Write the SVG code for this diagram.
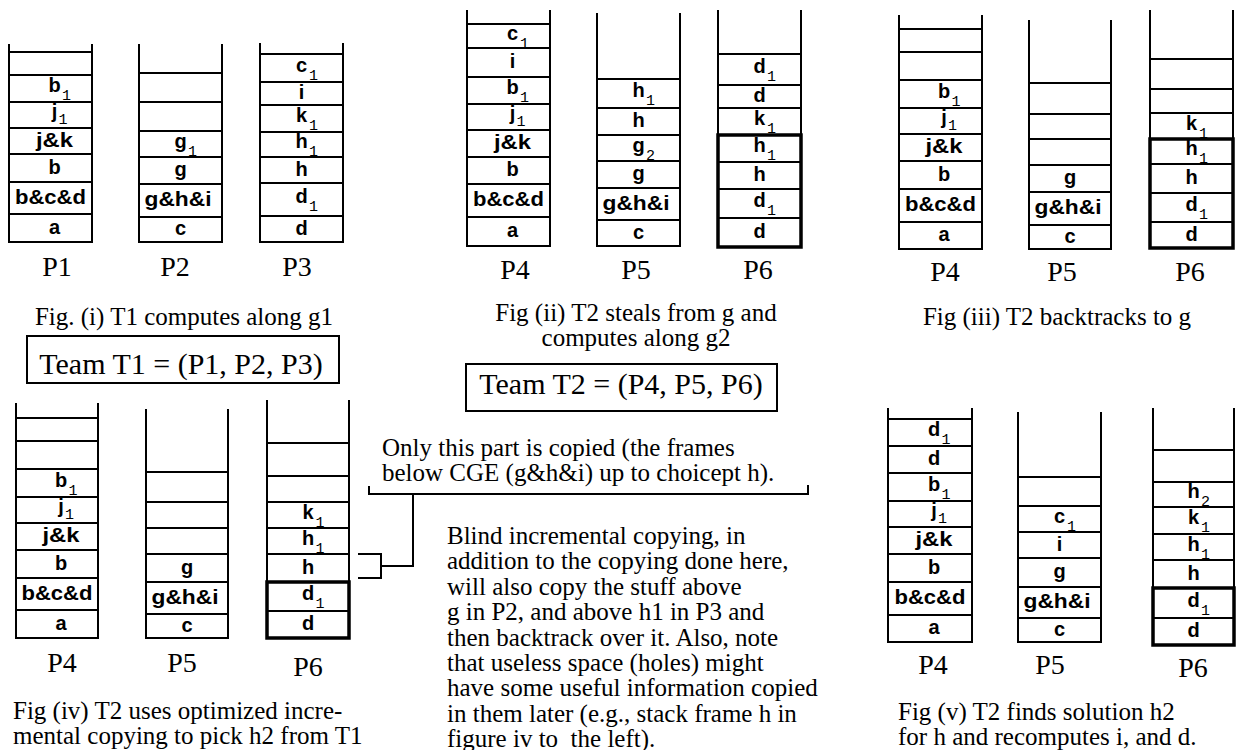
<svg xmlns="http://www.w3.org/2000/svg" width="1243" height="750" viewBox="0 0 1243 750">
<style>
.w{fill:none;stroke:#000;stroke-width:2}
.tk{fill:none;stroke:#000;stroke-width:3.5}
.l{font-family:"Liberation Sans",Arial,sans-serif;font-weight:bold;font-size:20px;text-anchor:middle}
.s{font-family:"Liberation Mono","Courier New",monospace;font-size:15px}
.p{font-family:"Liberation Serif","Times New Roman",serif;font-size:28px;text-anchor:middle}
.c{font-family:"Liberation Serif","Times New Roman",serif;font-size:25px}
.cm{font-family:"Liberation Serif","Times New Roman",serif;font-size:25px;text-anchor:middle}
.t{font-family:"Liberation Serif","Times New Roman",serif;font-size:30px;text-anchor:middle}
</style>
<rect width="1243" height="750" fill="#fff"/>

<!-- Fig (i) -->
<g id="fig1-P1">
<path class="w" d="M9,44V242H92V44M9,52H92M9,75H92M9,102H92M9,128H92M9,154H92M9,182H92M9,214H92"/>
<text class="l" x="54.5" y="92">b</text><text class="s" x="62" y="100">1</text>
<text class="l" x="54.5" y="117.5">j</text><text class="s" x="58.5" y="124">1</text>
<text class="l" x="54.5" y="146.5" textLength="37" lengthAdjust="spacingAndGlyphs">j&amp;k</text>
<text class="l" x="54.5" y="174">b</text>
<text class="l" x="50.5" y="204" textLength="71" lengthAdjust="spacingAndGlyphs">b&amp;c&amp;d</text>
<text class="l" x="54.5" y="234">a</text>
<text class="p" x="57" y="276">P1</text>
</g>
<g id="fig1-P2">
<path class="w" d="M139,44V242H222V44M139,73H222M139,102H222M139,131H222M139,157H222M139,184H222M139,217H222"/>
<text class="l" x="180.5" y="147.5">g</text><text class="s" x="188" y="155.5">1</text>
<text class="l" x="180.5" y="176">g</text>
<text class="l" x="178" y="206" textLength="67" lengthAdjust="spacingAndGlyphs">g&amp;h&amp;i</text>
<text class="l" x="180.5" y="235">c</text>
<text class="p" x="175" y="276">P2</text>
</g>
<g id="fig1-P3">
<path class="w" d="M260,43V242H343V43M260,54H343M260,82H343M260,105H343M260,132H343M260,157H343M260,183H343M260,216H343"/>
<text class="l" x="301.5" y="71.5">c</text><text class="s" x="309" y="79.5">1</text>
<text class="l" x="301.5" y="99">i</text>
<text class="l" x="301.5" y="122">k</text><text class="s" x="309" y="130">1</text>
<text class="l" x="301.5" y="148">h</text><text class="s" x="309" y="156">1</text>
<text class="l" x="301.5" y="175.5">h</text>
<text class="l" x="301.5" y="203">d</text><text class="s" x="309" y="211">1</text>
<text class="l" x="301.5" y="234.5">d</text>
<text class="p" x="297" y="276">P3</text>
</g>
<text id="cap1" class="cm" x="184" y="325">Fig. (i) T1 computes along g1</text>
<g id="team1">
<rect class="w" x="27" y="336" width="312" height="47"/>
<text class="t" x="181" y="374">Team T1 = (P1, P2, P3)</text>
</g>

<!-- Fig (ii) -->
<g id="fig2-P4">
<path class="w" d="M467,10V246H550V10M467,24H550M467,48H550M467,77H550M467,104H550M467,130H550M467,157H550M467,184H550M467,217H550"/>
<text class="l" x="512.5" y="39.5">c</text><text class="s" x="520" y="47.5">1</text>
<text class="l" x="512.5" y="68">i</text>
<text class="l" x="512.5" y="94">b</text><text class="s" x="520" y="102">1</text>
<text class="l" x="512.5" y="119.5">j</text><text class="s" x="516.5" y="126">1</text>
<text class="l" x="512.5" y="149" textLength="37" lengthAdjust="spacingAndGlyphs">j&amp;k</text>
<text class="l" x="512.5" y="176">b</text>
<text class="l" x="508.5" y="206" textLength="71" lengthAdjust="spacingAndGlyphs">b&amp;c&amp;d</text>
<text class="l" x="512.5" y="237">a</text>
<text class="p" x="515" y="279">P4</text>
</g>
<g id="fig2-P5">
<path class="w" d="M597,13V246H680V13M597,79H680M597,108H680M597,135H680M597,161H680M597,188H680M597,220H680"/>
<text class="l" x="638.5" y="97">h</text><text class="s" x="646" y="105">1</text>
<text class="l" x="638.5" y="127">h</text>
<text class="l" x="638.5" y="151.5">g</text><text class="s" x="646" y="159.5">2</text>
<text class="l" x="638.5" y="180">g</text>
<text class="l" x="636" y="209.5" textLength="67" lengthAdjust="spacingAndGlyphs">g&amp;h&amp;i</text>
<text class="l" x="638.5" y="238.5">c</text>
<text class="p" x="636" y="279">P5</text>
</g>
<g id="fig2-P6">
<path class="w" d="M718,10V247H801V10M718,54H801M718,85H801M718,108H801M718,162H801M718,189H801M718,218H801"/>
<rect class="tk" x="718" y="135" width="83" height="112"/>
<text class="l" x="759.5" y="73">d</text><text class="s" x="767" y="81">1</text>
<text class="l" x="759.5" y="102">d</text>
<text class="l" x="759.5" y="125">k</text><text class="s" x="767" y="133">1</text>
<text class="l" x="759.5" y="152">h</text><text class="s" x="767" y="160">1</text>
<text class="l" x="759.5" y="181">h</text>
<text class="l" x="759.5" y="207">d</text><text class="s" x="767" y="215">1</text>
<text class="l" x="759.5" y="238">d</text>
<text class="p" x="758" y="279">P6</text>
</g>
<g id="cap2">
<text class="cm" x="636" y="321">Fig (ii) T2 steals from g and</text>
<text class="cm" x="636" y="346">computes along g2</text>
</g>
<g id="team2">
<rect class="w" x="466" y="364" width="311" height="47"/>
<text class="t" x="621" y="394">Team T2 = (P4, P5, P6)</text>
</g>

<!-- Fig (iii) -->
<g id="fig3-P4">
<path class="w" d="M899,15V249H982V15M899,29H982M899,52H982M899,80H982M899,108H982M899,134H982M899,161H982M899,189H982M899,222H982"/>
<text class="l" x="944" y="97.5">b</text><text class="s" x="951.5" y="105.5">1</text>
<text class="l" x="944" y="123.5">j</text><text class="s" x="948" y="130">1</text>
<text class="l" x="944" y="153" textLength="37" lengthAdjust="spacingAndGlyphs">j&amp;k</text>
<text class="l" x="944" y="180.5">b</text>
<text class="l" x="940.5" y="211" textLength="71" lengthAdjust="spacingAndGlyphs">b&amp;c&amp;d</text>
<text class="l" x="944" y="241">a</text>
<text class="p" x="945" y="281">P4</text>
</g>
<g id="fig3-P5">
<path class="w" d="M1029,20V249H1111V20M1029,83H1111M1029,114H1111M1029,139H1111M1029,165H1111M1029,192H1111M1029,225H1111"/>
<text class="l" x="1070" y="184">g</text>
<text class="l" x="1068" y="214" textLength="67" lengthAdjust="spacingAndGlyphs">g&amp;h&amp;i</text>
<text class="l" x="1070" y="242.5">c</text>
<text class="p" x="1062" y="281">P5</text>
</g>
<g id="fig3-P6">
<path class="w" d="M1150,10V248H1233V10M1150,59H1233M1150,89H1233M1150,113H1233M1150,164H1233M1150,193H1233M1150,222H1233"/>
<rect class="tk" x="1150" y="139" width="83" height="109"/>
<text class="l" x="1191.5" y="129.5">k</text><text class="s" x="1199" y="137.5">1</text>
<text class="l" x="1191.5" y="155">h</text><text class="s" x="1199" y="163">1</text>
<text class="l" x="1191.5" y="184">h</text>
<text class="l" x="1191.5" y="211">d</text><text class="s" x="1199" y="219">1</text>
<text class="l" x="1191.5" y="240.5">d</text>
<text class="p" x="1190" y="281">P6</text>
</g>
<text id="cap3" class="cm" x="1057" y="325">Fig (iii) T2 backtracks to g</text>

<!-- Fig (iv) -->
<g id="fig4-P4">
<path class="w" d="M16,403V638H98V403M16,418H98M16,441H98M16,469H98M16,497H98M16,523H98M16,550H98M16,578H98M16,610H98"/>
<text class="l" x="61" y="486.5">b</text><text class="s" x="68.5" y="494.5">1</text>
<text class="l" x="61" y="512.5">j</text><text class="s" x="65" y="519">1</text>
<text class="l" x="61" y="542" textLength="37" lengthAdjust="spacingAndGlyphs">j&amp;k</text>
<text class="l" x="61" y="569.5">b</text>
<text class="l" x="57" y="599.5" textLength="71" lengthAdjust="spacingAndGlyphs">b&amp;c&amp;d</text>
<text class="l" x="61" y="629.5">a</text>
<text class="p" x="62" y="672">P4</text>
</g>
<g id="fig4-P5">
<path class="w" d="M146,409V638H228V409M146,472H228M146,502H228M146,528H228M146,554H228M146,582H228M146,614H228"/>
<text class="l" x="187" y="573.5">g</text>
<text class="l" x="185" y="603.5" textLength="67" lengthAdjust="spacingAndGlyphs">g&amp;h&amp;i</text>
<text class="l" x="187" y="631.5">c</text>
<text class="p" x="182" y="672">P5</text>
</g>
<g id="fig4-P6">
<path class="w" d="M267,400V638H349V400M267,443H349M267,476H349M267,502H349M267,528H349M267,554H349M267,611H349"/>
<rect class="tk" x="267" y="582" width="82" height="56"/>
<text class="l" x="308" y="518.5">k</text><text class="s" x="315.5" y="526.5">1</text>
<text class="l" x="308" y="544.5">h</text><text class="s" x="315.5" y="552.5">1</text>
<text class="l" x="308" y="573.5">h</text>
<text class="l" x="308" y="600">d</text><text class="s" x="315.5" y="608">1</text>
<text class="l" x="308" y="630">d</text>
<text class="p" x="308" y="676">P6</text>
</g>
<g id="cap4">
<text class="c" x="13" y="719">Fig (iv) T2 uses optimized incre-</text>
<text class="c" x="13" y="744.4">mental copying to pick h2 from T1</text>
</g>

<!-- Notes -->
<g id="note-copied">
<text class="c" x="382" y="456">Only this part is copied (the frames</text>
<text class="c" x="382" y="481.4">below CGE (g&amp;h&amp;i) up to choicept h).</text>
</g>
<g id="note-blind">
<text class="c" x="447" y="544">Blind incremental copying, in</text>
<text class="c" x="447" y="569.4">addition to the copying done here,</text>
<text class="c" x="447" y="594.8">will also copy the stuff above</text>
<text class="c" x="447" y="620.2">g in P2, and above h1 in P3 and</text>
<text class="c" x="447" y="645.6">then backtrack over it. Also, note</text>
<text class="c" x="447" y="671">that useless space (holes) might</text>
<text class="c" x="447" y="696.4">have some useful information copied</text>
<text class="c" x="447" y="721.8">in them later (e.g., stack frame h in</text>
<text class="c" x="447" y="747.2" style="white-space:pre">figure iv to  the left).</text>
</g>

<g id="connectors">
<path class="w" d="M369,486V494H808V485"/>
<path class="w" d="M413,494V566H381"/>
<path class="w" d="M358,554H381V578H358"/>
</g>

<!-- Fig (v) -->
<g id="fig5-P4">
<path class="w" d="M888,408V642H972V408M888,419H972M888,446H972M888,473H972M888,501H972M888,527H972M888,554H972M888,582H972M888,615H972"/>
<text class="l" x="934" y="436">d</text><text class="s" x="941.5" y="444">1</text>
<text class="l" x="934" y="465">d</text>
<text class="l" x="934" y="490.5">b</text><text class="s" x="941.5" y="498.5">1</text>
<text class="l" x="934" y="516.5">j</text><text class="s" x="938" y="523">1</text>
<text class="l" x="934" y="546" textLength="37" lengthAdjust="spacingAndGlyphs">j&amp;k</text>
<text class="l" x="934" y="573.5">b</text>
<text class="l" x="930" y="604" textLength="71" lengthAdjust="spacingAndGlyphs">b&amp;c&amp;d</text>
<text class="l" x="934" y="634">a</text>
<text class="p" x="933" y="674">P4</text>
</g>
<g id="fig5-P5">
<path class="w" d="M1018,412V642H1101V412M1018,477H1101M1018,506H1101M1018,532H1101M1018,558H1101M1018,587H1101M1018,618H1101"/>
<text class="l" x="1059.5" y="522.5">c</text><text class="s" x="1067" y="530.5">1</text>
<text class="l" x="1059.5" y="550.5">i</text>
<text class="l" x="1059.5" y="578">g</text>
<text class="l" x="1057" y="608" textLength="67" lengthAdjust="spacingAndGlyphs">g&amp;h&amp;i</text>
<text class="l" x="1059.5" y="635.5">c</text>
<text class="p" x="1050" y="674">P5</text>
</g>
<g id="fig5-P6">
<path class="w" d="M1153,408V645H1234V408M1153,450H1234M1153,482H1234M1153,507H1234M1153,534H1234M1153,560H1234M1153,618H1234"/>
<rect class="tk" x="1153" y="588" width="81" height="57"/>
<text class="l" x="1193.5" y="498">h</text><text class="s" x="1201" y="506">2</text>
<text class="l" x="1193.5" y="524">k</text><text class="s" x="1201" y="532">1</text>
<text class="l" x="1193.5" y="550.5">h</text><text class="s" x="1201" y="558.5">1</text>
<text class="l" x="1193.5" y="579.5">h</text>
<text class="l" x="1193.5" y="606.5">d</text><text class="s" x="1201" y="614.5">1</text>
<text class="l" x="1193.5" y="637">d</text>
<text class="p" x="1193" y="677">P6</text>
</g>
<g id="cap5">
<text class="c" x="898" y="720">Fig (v) T2 finds solution h2</text>
<text class="c" x="898" y="745.4">for h and recomputes i, and d.</text>
</g>
</svg>
